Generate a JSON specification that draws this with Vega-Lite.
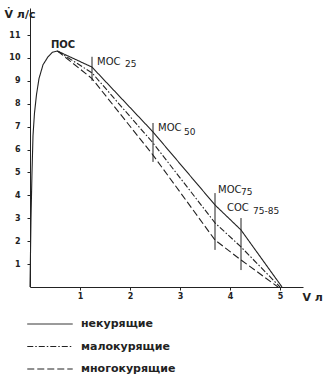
{
  "$schema": "https://vega.github.io/schema/vega-lite/v6.json",
  "width": 273,
  "height": 279,
  "autosize": {"type": "none"},
  "padding": {"left": 30, "top": 8, "right": 20, "bottom": 88},
  "background": "white",
  "config": {
    "view": {"stroke": null}, "font": "DejaVu Sans",
    "axis": {"labelOverlap": false, "grid": false}
  },
  "datasets": {
    "curves": [
      {"group": "некурящие", "i": 0, "x": 0, "y": 0},
      {"group": "некурящие", "i": 1, "x": 0.02, "y": 3},
      {"group": "некурящие", "i": 2, "x": 0.04, "y": 5},
      {"group": "некурящие", "i": 3, "x": 0.06, "y": 6.6},
      {"group": "некурящие", "i": 4, "x": 0.09, "y": 7.6},
      {"group": "некурящие", "i": 5, "x": 0.13, "y": 8.4},
      {"group": "некурящие", "i": 6, "x": 0.18, "y": 9.1},
      {"group": "некурящие", "i": 7, "x": 0.26, "y": 9.7},
      {"group": "некурящие", "i": 8, "x": 0.36, "y": 10.05},
      {"group": "некурящие", "i": 9, "x": 0.45, "y": 10.25},
      {"group": "некурящие", "i": 10, "x": 0.55, "y": 10.3},
      {"group": "некурящие", "i": 11, "x": 1.24, "y": 9.6},
      {"group": "некурящие", "i": 12, "x": 2.46, "y": 6.77},
      {"group": "некурящие", "i": 13, "x": 3.7, "y": 3.58},
      {"group": "некурящие", "i": 14, "x": 4.22, "y": 2.49},
      {"group": "некурящие", "i": 15, "x": 5.04, "y": 0},
      {"group": "малокурящие", "i": 0, "x": 0.55, "y": 10.3},
      {"group": "малокурящие", "i": 1, "x": 1.24, "y": 9.35},
      {"group": "малокурящие", "i": 2, "x": 2.46, "y": 6.29},
      {"group": "малокурящие", "i": 3, "x": 3.7, "y": 2.8},
      {"group": "малокурящие", "i": 4, "x": 4.22, "y": 1.75},
      {"group": "малокурящие", "i": 5, "x": 5.0, "y": 0},
      {"group": "многокурящие", "i": 0, "x": 0.55, "y": 10.3},
      {"group": "многокурящие", "i": 1, "x": 1.24, "y": 9.1},
      {"group": "многокурящие", "i": 2, "x": 2.46, "y": 5.76},
      {"group": "многокурящие", "i": 3, "x": 3.7, "y": 2.05},
      {"group": "многокурящие", "i": 4, "x": 4.22, "y": 1.18},
      {"group": "многокурящие", "i": 5, "x": 4.96, "y": 0}
    ],
    "marks": [
      {"x": 1.24, "lo": 9.0, "hi": 10.05},
      {"x": 2.46, "lo": 5.46, "hi": 7.16},
      {"x": 3.7, "lo": 1.62, "hi": 4.1},
      {"x": 4.22, "lo": 0.74, "hi": 3.01}
    ],
    "peak": [{"x": 0.66, "y": 10.57, "t": "ПОС"}],
    "names": [
      {"x": 1.34, "y": 9.83, "t": "МОС"},
      {"x": 2.56, "y": 6.94, "t": "МОС"},
      {"x": 3.76, "y": 4.24, "t": "МОС"},
      {"x": 3.94, "y": 3.45, "t": "СОС"}
    ],
    "subs": [
      {"x": 1.9, "y": 9.74, "t": "25"},
      {"x": 3.08, "y": 6.77, "t": "50"},
      {"x": 4.22, "y": 4.15, "t": "75"},
      {"x": 4.46, "y": 3.32, "t": "75-85"}
    ]
  },
  "layer": [
    {
      "data": {"name": "curves"},
      "mark": {"type": "line", "color": "#222", "strokeWidth": 1.1},
      "encoding": {
        "x": {
          "field": "x", "type": "quantitative",
          "scale": {"domain": [0, 5.46], "nice": false, "zero": false},
          "axis": {
            "values": [1, 2, 3, 4, 5], "format": "d", "grid": false, "labelOverlap": false,
            "title": "V л", "titleX": 272, "titleY": 10, "titleAlign": "left",
            "titleBaseline": "middle", "titleFontSize": 11, "titleFontWeight": "bold",
            "titleColor": "#222",
            "labelFontSize": 8, "labelFontWeight": "bold", "labelColor": "#222",
            "tickSize": 3, "tickColor": "#222", "domainColor": "#222", "labelPadding": 2
          }
        },
        "y": {
          "field": "y", "type": "quantitative",
          "scale": {"domain": [0, 12.18], "nice": false, "zero": false},
          "axis": {
            "values": [1, 2, 3, 4, 5, 6, 7, 8, 9, 10, 11], "tickCount": 12, "format": "d",
            "grid": false, "labelOverlap": false,
            "title": "V̇ л/с", "titleAngle": 0, "titleX": -26, "titleY": 6,
            "titleAlign": "left", "titleBaseline": "middle", "titleFontSize": 11,
            "titleFontWeight": "bold", "titleColor": "#222",
            "labelFontSize": 8, "labelFontWeight": "bold", "labelColor": "#222",
            "tickSize": 3, "tickColor": "#222", "domainColor": "#222", "labelPadding": 7
          }
        },
        "order": {"field": "i", "type": "quantitative"},
        "strokeDash": {
          "field": "group", "type": "nominal",
          "scale": {
            "domain": ["некурящие", "малокурящие", "многокурящие"],
            "range": [[1, 0], [6, 2, 1.5, 2], [7, 3]]
          },
          "legend": {
            "orient": "none", "legendX": 12, "legendY": 308, "title": null,
            "symbolType": "M-3.1,0H3.1", "symbolSize": 215, "symbolStrokeWidth": 1,
            "symbolStrokeColor": "#222",
            "labelFontSize": 11, "labelFontWeight": "bold", "labelColor": "#222",
            "labelOffset": 23, "rowPadding": 9.5
          }
        }
      }
    },
    {
      "data": {"name": "marks"},
      "mark": {"type": "rule", "color": "#222", "strokeWidth": 1},
      "encoding": {
        "x": {"field": "x", "type": "quantitative"},
        "y": {"field": "lo", "type": "quantitative"},
        "y2": {"field": "hi"}
      }
    },
    {
      "data": {"name": "peak"},
      "mark": {"type": "text", "fontSize": 10, "fontWeight": "bold", "color": "#222", "align": "center", "baseline": "middle"},
      "encoding": {
        "x": {"field": "x", "type": "quantitative"},
        "y": {"field": "y", "type": "quantitative"},
        "text": {"field": "t"}
      }
    },
    {
      "data": {"name": "names"},
      "mark": {"type": "text", "fontSize": 10, "color": "#222", "align": "left", "baseline": "middle"},
      "encoding": {
        "x": {"field": "x", "type": "quantitative"},
        "y": {"field": "y", "type": "quantitative"},
        "text": {"field": "t"}
      }
    },
    {
      "data": {"name": "subs"},
      "mark": {"type": "text", "fontSize": 9, "color": "#222", "align": "left", "baseline": "middle"},
      "encoding": {
        "x": {"field": "x", "type": "quantitative"},
        "y": {"field": "y", "type": "quantitative"},
        "text": {"field": "t"}
      }
    }
  ]
}
